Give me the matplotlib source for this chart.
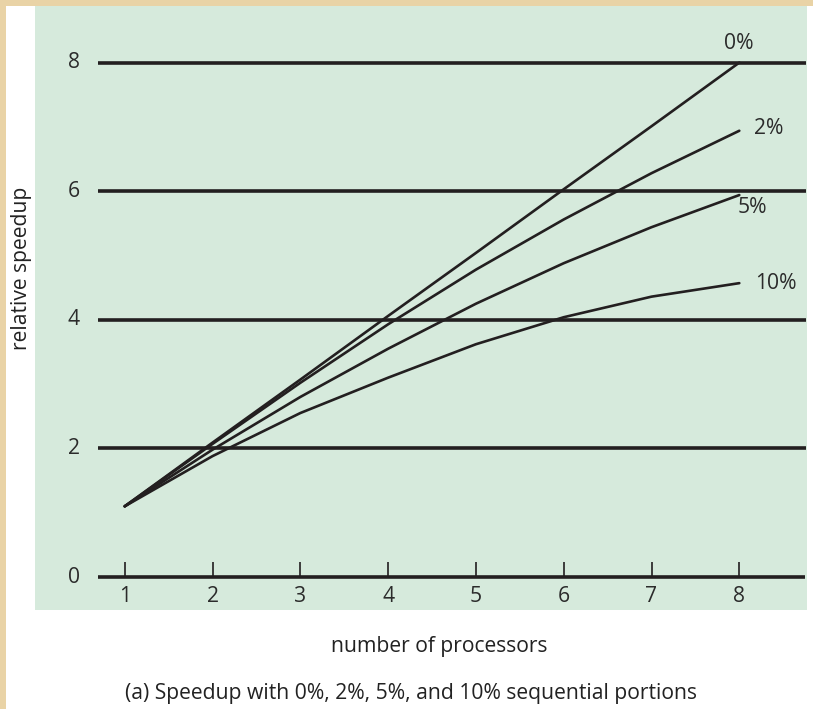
import numpy as np
import matplotlib
matplotlib.use('Agg')
import matplotlib.pyplot as plt
from matplotlib.patches import Rectangle

plt.rcParams['font.family'] = ['Open Sans', 'DejaVu Sans']

# number of processors and relative speedup
processors = [1, 2, 3, 4, 5, 6, 7, 8]
speedup_0 = [1.1, 2.09, 3.07, 4.06, 5.04, 6.03, 7.01, 8.0]
speedup_2 = [1.1, 2.07, 3.02, 3.93, 4.78, 5.56, 6.28, 6.94]
speedup_5 = [1.1, 1.98, 2.80, 3.55, 4.25, 4.88, 5.44, 5.94]
speedup_10 = [1.1, 1.88, 2.55, 3.10, 3.62, 4.04, 4.36, 4.57]
series = [speedup_0, speedup_2, speedup_5, speedup_10]
labels = ['0%', '2%', '5%', '10%']
label_pos = [(7.99, 8.29), (8.33, 6.97), (8.15, 5.75), (8.42, 4.57)]
y_grid = [2, 4, 6, 8]
y_ticks = [0, 2, 4, 6, 8]

ink = '#231f20'
txt = '#2b2b2b'
green = '#d6eadc'
parch = '#e9d3a6'
fs = 15.2

W, H = 813, 709
fig = plt.figure(figsize=(W / 100, H / 100), dpi=100)
fig.patch.set_facecolor('white')
# parchment edges at top and left
fig.patches.append(Rectangle((0, 1 - 6 / H), 1, 6 / H, transform=fig.transFigure,
                             facecolor=parch, edgecolor='none', zorder=0))
fig.patches.append(Rectangle((0, 0), 6 / W, 1, transform=fig.transFigure,
                             facecolor=parch, edgecolor='none', zorder=0))

ax = fig.add_axes([35 / W, 1 - 610 / H, (807 - 35) / W, (610 - 6) / H])
ax.set_facecolor(green)
ax.set_xlim(-0.022, 8.771)
ax.set_ylim(-0.513, 8.88)
for s in ax.spines.values():
    s.set_visible(False)
ax.set_xticks([])
ax.set_yticks([])

# horizontal rules and base axis
ax.hlines(y_grid, 0.696, 8.76, color=ink, lw=2.6, zorder=2)
ax.hlines(0, 0.696, 8.75, color=ink, lw=2.6, zorder=2)
ax.vlines(processors, 0, 0.23, color=ink, lw=1.2, zorder=2)
for n in processors:
    ax.text(n, -0.31, str(n), ha='center', va='center', fontsize=fs, color=txt)
for v in y_ticks:
    ax.text(0.49, v, str(v), ha='right', va='center', fontsize=fs, color=txt)

for ys, lab, (lx, ly) in zip(series, labels, label_pos):
    ax.plot(processors, ys, color=ink, lw=1.9, solid_capstyle='round',
            solid_joinstyle='round', zorder=3)
    ax.text(lx, ly, lab, ha='center', va='center', fontsize=fs, color=txt)

fig.text(21 / W, 1 - 268 / H, 'relative speedup', rotation=90, ha='center', va='center',
         fontsize=fs, color='#222222')
fig.text(439 / W, 1 - 652 / H, 'number of processors', ha='center', va='baseline',
         fontsize=fs, color='#222222')
fig.text(411 / W, 1 - 699 / H, '(a) Speedup with 0%, 2%, 5%, and 10% sequential portions',
         ha='center', va='baseline', fontsize=fs, color='#222222')

fig.savefig('out.png', dpi=100)
